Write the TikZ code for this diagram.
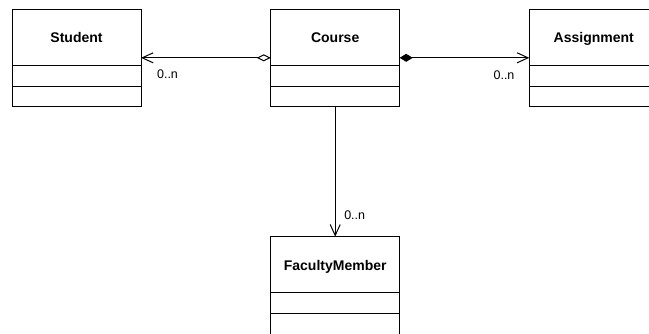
\documentclass[tikz,border=0pt]{standalone}
\usepackage{fontspec}
\setmainfont{Liberation Sans}
\usetikzlibrary{arrows.meta}
\tikzset{
  line/.style={draw=black, line width=1pt},
  classbox/.style={line, rectangle, inner sep=0pt, outer sep=0pt, minimum width=129pt, minimum height=97pt, anchor=north west},
  classtitle/.style={anchor=base, inner sep=0pt, font=\bfseries\fontsize{14}{16}\selectfont},
  mult/.style={inner sep=0pt, font=\fontsize{12.5}{14}\selectfont},
  openhead/.style={line, -{Straight Barb[length=11pt, width=10pt, line width=1pt]}},
  aggr/.style={line, {Diamond[open, length=14pt, width=7pt, line width=1pt]}-{Straight Barb[length=11pt, width=10pt, line width=1pt]}},
  compo/.style={line, {Diamond[length=13pt, width=8pt]}-{Straight Barb[length=11pt, width=10pt, line width=1pt]}}
}
\newcommand\umlbox[5][]{%
  \node[classbox, #1] (#2) at (#3,#4) {};
  \node[classtitle] (#2-title) at ([yshift=-33.3pt]#2.north) {#5};
  \draw[line] ([yshift=-56pt]#2.north west) -- ([yshift=-56pt]#2.north east);
  \draw[line] ([yshift=-77pt]#2.north west) -- ([yshift=-77pt]#2.north east);
}
\begin{document}
\begin{tikzpicture}[x=1pt, y=-1pt]
\useasboundingbox (0,0) rectangle (649,333);
\fill[white] (0,0) rectangle (649,333);
\clip (0,0) rectangle (649,333);
\umlbox{student}{12}{9.3}{Student}
\umlbox{course}{270.7}{9.3}{Course}
\umlbox{assignment}{529.3}{9.3}{Assignment}
\umlbox[minimum height=110pt]{faculty}{270.7}{236.7}{FacultyMember}
\draw[aggr] (course.west) -- (student.east);
\draw[compo] (course.east) -- (assignment.west);
\draw[openhead] (course.south) -- (faculty.north);
\node[mult] (m-student) at (167.5,74.5) {0..n};
\node[mult] (m-assignment) at (504,75) {0..n};
\node[mult] (m-faculty) at (354.7,215.3) {0..n};
\end{tikzpicture}
\end{document}
